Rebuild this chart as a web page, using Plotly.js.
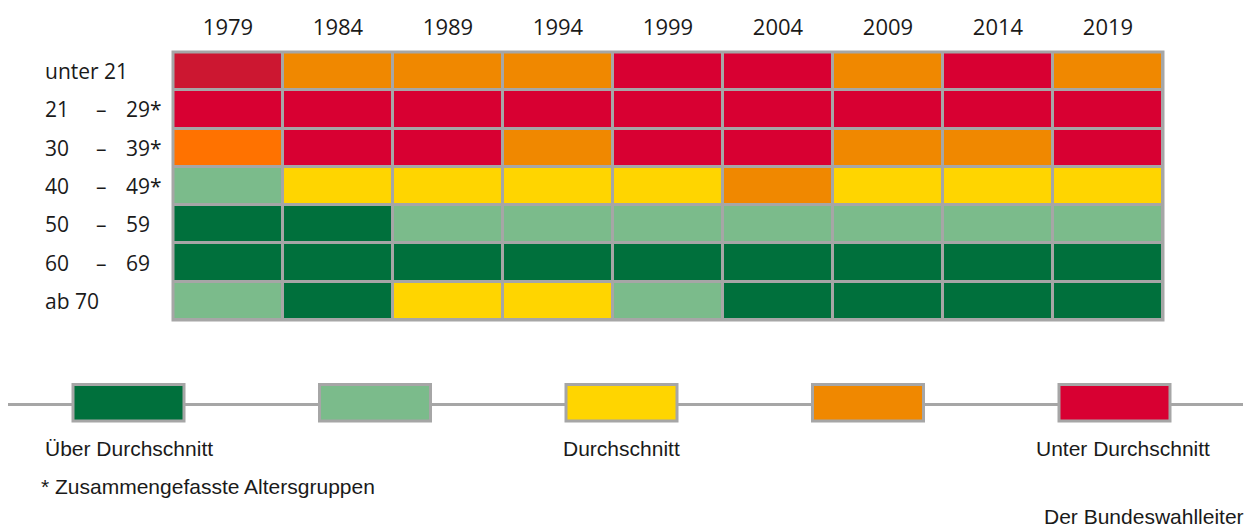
<!DOCTYPE html>
<html>
<head>
<meta charset="utf-8">
<script src="https://cdn.plot.ly/plotly-3.0.1.min.js"></script>
<style>
  body { margin: 0; background: #fff; }
  #chart { width: 1248px; height: 527px; }
</style>
</head>
<body>
<div id="chart"></div>
<script>
// Wahlbeteiligung nach Altersgruppen, Bundestagswahlen 1979 - 2019
var years = ["1979", "1984", "1989", "1994", "1999", "2004", "2009", "2014", "2019"]
var ageFrom = ["unter 21", "21", "30", "40", "50", "60", "ab 70"]
var ageTo = ["", "29*", "39*", "49*", "59", "69", ""]

// 0 = ueber Durchschnitt ... 4 = unter Durchschnitt, 5/6 = abweichende Toene 1979
var codes = [
  [5, 3, 3, 3, 4, 4, 3, 4, 3],
  [4, 4, 4, 4, 4, 4, 4, 4, 4],
  [6, 4, 4, 3, 4, 4, 3, 3, 4],
  [1, 2, 2, 2, 2, 3, 2, 2, 2],
  [0, 0, 1, 1, 1, 1, 1, 1, 1],
  [0, 0, 0, 0, 0, 0, 0, 0, 0],
  [1, 0, 2, 2, 1, 0, 0, 0, 0]
]
var colors = ["#00703c", "#7bbb8b", "#ffd500", "#f08800", "#d80032", "#cc1731", "#ff7200"]

var legendColors = ["#00703c", "#7bbb8b", "#ffd500", "#f08800", "#d80032"]
var legendTexts = ["Über Durchschnitt", "", "Durchschnitt", "", "Unter Durchschnitt"]
var footnote = "* Zusammengefasste Altersgruppen"
var source = "Der Bundeswahlleiter"

var W = 1248, H = 527
var M = {l: 173, r: 85, t: 52, b: 207}
var grey = "#a6a6a6"
var numFont = "Open Sans, sans-serif"
var txtFont = "Liberation Sans, Arial, sans-serif"
var ink = "#1a1a1a"

// pixel -> paper coordinates
function px(x) { return (x - M.l) / (W - M.l - M.r) }
function py(y) { return (H - M.b - y) / (H - M.t - M.b) }

window.addEventListener("load", setup)

function setup() {
  var trace = {
    type: "heatmap",
    x: years,
    y: ageFrom.map(function (a, i) { return i }),
    z: codes,
    zmin: 0,
    zmax: colors.length - 1,
    colorscale: colors.map(function (c, i) { return [i / (colors.length - 1), c] }),
    showscale: false,
    xgap: 3,
    ygap: 3,
    hoverinfo: "skip"
  }

  var rowFont = {family: numFont, size: 21, color: ink}
  var annotations = []
  for (var i = 0; i < ageFrom.length; i++) {
    annotations.push({xref: "paper", yref: "y", x: px(43), y: i, text: ageFrom[i],
      showarrow: false, xanchor: "left", font: rowFont})
    if (ageTo[i] != "") {
      annotations.push({xref: "paper", yref: "y", x: px(101), y: i, text: "–",
        showarrow: false, xanchor: "center", font: rowFont})
      annotations.push({xref: "paper", yref: "y", x: px(124), y: i, text: ageTo[i],
        showarrow: false, xanchor: "left", font: rowFont})
    }
  }

  // legend strip
  var shapes = [
    {type: "rect", xref: "paper", yref: "paper", x0: 0, x1: 1, y0: 0, y1: 1,
      line: {color: grey, width: 3}},
    {type: "line", xref: "paper", yref: "paper", x0: px(8), x1: px(1243), y0: py(404.5), y1: py(404.5),
      line: {color: grey, width: 3}}
  ]
  var labFont = {family: txtFont, size: 21, color: ink}
  for (var k = 0; k < legendColors.length; k++) {
    var left = 73 + k * 246.5
    shapes.push({type: "rect", xref: "paper", yref: "paper",
      x0: px(left), x1: px(left + 111), y0: py(421), y1: py(384.5),
      fillcolor: legendColors[k], line: {color: grey, width: 3}})
    if (legendTexts[k] != "") {
      annotations.push({xref: "paper", yref: "paper", x: px(left + 55.5 + (k == 4 ? 8 : 0)), y: py(448),
        text: legendTexts[k], showarrow: false, xanchor: "center", yanchor: "middle", font: labFont})
    }
  }
  annotations.push({xref: "paper", yref: "paper", x: px(39), y: py(486), text: footnote,
    showarrow: false, xanchor: "left", yanchor: "middle", font: labFont})
  annotations.push({xref: "paper", yref: "paper", x: px(1246), y: py(516), text: source,
    showarrow: false, xanchor: "right", yanchor: "middle", font: labFont})

  var layout = {
    width: W,
    height: H,
    margin: M,
    paper_bgcolor: "#ffffff",
    plot_bgcolor: grey,
    xaxis: {side: "top", type: "category", showgrid: false, zeroline: false, showline: false,
      ticks: "", ticklabelstandoff: 12, tickfont: {family: numFont, size: 22, color: ink}, fixedrange: true},
    yaxis: {autorange: "reversed", showgrid: false, zeroline: false, showline: false,
      showticklabels: false, ticks: "", fixedrange: true},
    shapes: shapes,
    annotations: annotations,
    showlegend: false
  }

  Plotly.newPlot("chart", [trace], layout, {displayModeBar: false, staticPlot: true})
}
</script>
</body>
</html>
